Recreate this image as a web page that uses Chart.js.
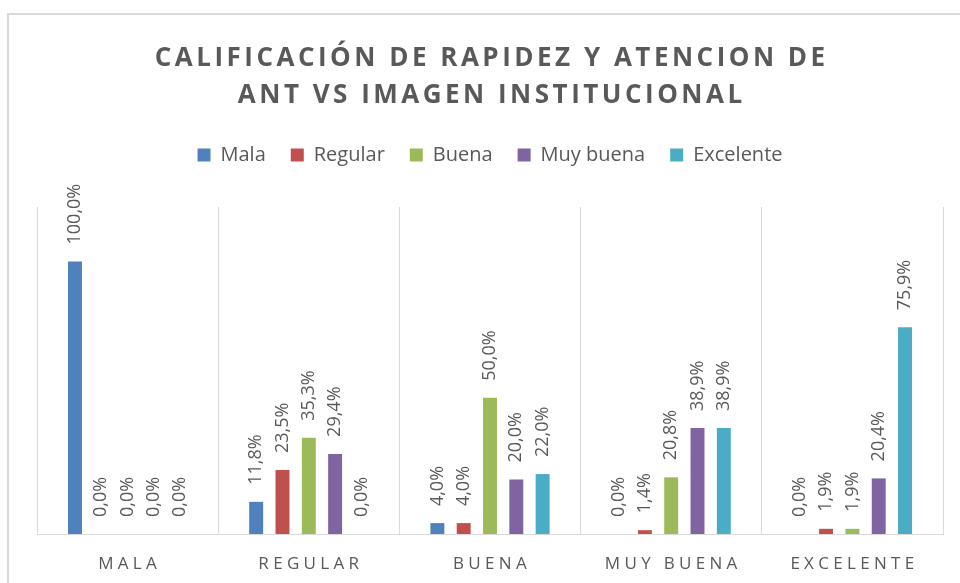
<!DOCTYPE html>
<html>
<head>
<meta charset="utf-8">
<script src="https://cdn.jsdelivr.net/npm/chart.js@4/dist/chart.umd.min.js"></script>
<style>
  html, body { margin: 0; padding: 0; background: #fff; }
  #wrap { position: relative; width: 960px; height: 583px; }
</style>
</head>
<body>
<div id="wrap"><canvas id="chart"></canvas></div>
<script>
// Chart text
const titleLines = ['CALIFICACIÓN DE RAPIDEZ Y ATENCION DE', 'ANT VS IMAGEN INSTITUCIONAL'];
const categories = ['MALA', 'REGULAR', 'BUENA', 'MUY BUENA', 'EXCELENTE'];

// Series (one value per category, in %)
const seriesNames = ['Mala', 'Regular', 'Buena', 'Muy buena', 'Excelente'];
const malaValues = [100.0, 11.8, 4.0, 0.0, 0.0];
const regularValues = [0.0, 23.5, 4.0, 1.4, 1.9];
const buenaValues = [0.0, 35.3, 50.0, 20.8, 1.9];
const muyBuenaValues = [0.0, 29.4, 20.0, 38.9, 20.4];
const excelenteValues = [0.0, 0.0, 22.0, 38.9, 75.9];
const seriesColors = ['#4F81BD', '#C0504D', '#9BBB59', '#8064A2', '#4BACC6'];

const TEXT = '#595959';
const GRID = '#d9d9d9';

// Format 23.5 -> "23,5%"
function pct(v) {
    return v.toFixed(1).replace('.', ',') + '%';
}

// Light frame around the whole chart, like the office chart border
const framePlugin = {
    id: 'frame',
    beforeDraw(chart) {
        const ctx = chart.ctx;
        ctx.save();
        ctx.strokeStyle = GRID;
        ctx.lineWidth = 2;
        ctx.strokeRect(8, 14, chart.width + 20, chart.height + 20);
        ctx.restore();
    }
};

// Extra room under the legend before the plot starts
const legendGapPlugin = {
    id: 'legendGap',
    beforeInit(chart) {
        const origFit = chart.legend.fit;
        chart.legend.fit = function () {
            origFit.bind(chart.legend)();
            this.height += 32;
        };
    }
};

// Spaced-out title and category labels (Chart.js fonts have no letter spacing)
const spacedTextPlugin = {
    id: 'spacedText',
    afterDraw(chart) {
        const ctx = chart.ctx;
        const area = chart.chartArea;
        const cx = (area.left + area.right) / 2;
        ctx.save();
        ctx.fillStyle = TEXT;
        ctx.textAlign = 'center';
        ctx.textBaseline = 'middle';

        ctx.font = 'bold 26px "Open Sans"';
        ctx.letterSpacing = '3.5px';
        titleLines.forEach((line, i) => {
            ctx.fillText(line, cx + 1.7, 59 + i * 37);
        });

        ctx.font = '17px "Open Sans"';
        ctx.letterSpacing = '4.3px';
        const xScale = chart.scales.x;
        categories.forEach((cat, i) => {
            ctx.fillText(cat, xScale.getPixelForValue(i) + 2, area.bottom + 30);
        });
        ctx.restore();
    }
};

// Rotated value labels above each bar
const valueLabelPlugin = {
    id: 'valueLabels',
    afterDatasetsDraw(chart) {
        const ctx = chart.ctx;
        ctx.save();
        ctx.fillStyle = TEXT;
        ctx.font = '18px "Open Sans"';
        ctx.textAlign = 'left';
        ctx.textBaseline = 'middle';
        chart.data.datasets.forEach((ds, di) => {
            const meta = chart.getDatasetMeta(di);
            meta.data.forEach((bar, i) => {
                ctx.save();
                ctx.translate(bar.x, bar.y - 17);
                ctx.rotate(-Math.PI / 2);
                ctx.fillText(pct(ds.data[i]), 0, 0);
                ctx.restore();
            });
        });
        ctx.restore();
    }
};

const allValues = [malaValues, regularValues, buenaValues, muyBuenaValues, excelenteValues];

const datasets = seriesNames.map((name, i) => ({
    label: name,
    data: allValues[i],
    backgroundColor: seriesColors[i],
    borderWidth: 0,
    categoryPercentage: 0.726,
    barPercentage: 0.53
}));

new Chart(document.getElementById('chart'), {
    type: 'bar',
    data: { labels: categories, datasets },
    options: {
        responsive: true,
        maintainAspectRatio: false,
        animation: false,
        layout: { padding: { left: 37, right: 17, top: 120, bottom: 49 } },
        plugins: {
            title: { display: false },
            tooltip: { enabled: false },
            legend: {
                display: true,
                position: 'top',
                labels: {
                    color: TEXT,
                    font: { family: 'Open Sans', size: 20 },
                    boxWidth: 13,
                    boxHeight: 13,
                    padding: 25
                }
            }
        },
        scales: {
            x: {
                grid: { display: true, offset: true, color: GRID, lineWidth: 1, drawTicks: false },
                border: { display: true, color: GRID, width: 1 },
                ticks: { display: false }
            },
            y: {
                display: false,
                min: 0,
                max: 120
            }
        }
    },
    plugins: [framePlugin, legendGapPlugin, valueLabelPlugin, spacedTextPlugin]
});
</script>
</body>
</html>
